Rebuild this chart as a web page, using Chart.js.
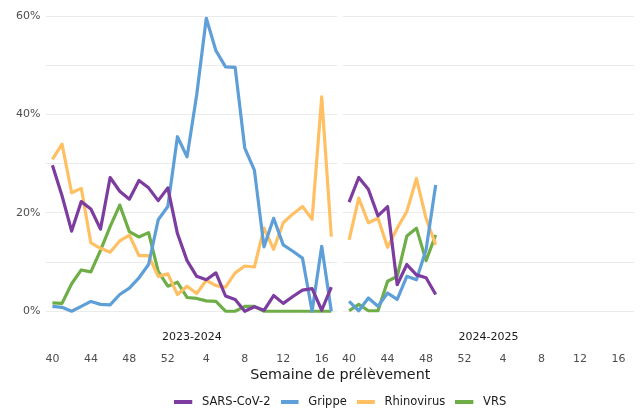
<!DOCTYPE html>
<html>
<head>
<meta charset="utf-8">
<script src="https://cdn.jsdelivr.net/npm/chart.js@4/dist/chart.umd.min.js"></script>
<style>
  html, body { margin: 0; padding: 0; background: #fff; }
  #wrap { width: 640px; height: 410px; position: relative; }
</style>
</head>
<body>
<div id="wrap"><canvas id="myChart"></canvas></div>
<script>
// Weeks on each panel (40 -> 52, then 1 -> 17)
const weeks = [40,41,42,43,44,45,46,47,48,49,50,51,52,1,2,3,4,5,6,7,8,9,10,11,12,13,14,15,16,17];
const tickWeeks = [40, 44, 48, 52, 4, 8, 12, 16];
const seasons = ['2023-2024', '2024-2025'];
const seriesNames = ['SARS-CoV-2', 'Grippe', 'Rhinovirus', 'VRS'];
const colors = ['#7d3c9f', '#5e9fd8', '#ffc064', '#6fae47'];

// 2023-2024 (% positive)
const sars2324 = [29.7, 23.5, 16.3, 22.3, 20.8, 16.7, 27.2, 24.4, 22.8, 26.6, 25.1, 22.5, 25.1, 15.8, 10.3, 7.1, 6.4, 7.8, 3.1, 2.4, 0, 0.9, 0.2, 3.2, 1.6, 3.0, 4.3, 4.6, 0.2, 4.9];
const grippe2324 = [1.0, 0.8, 0, 1.0, 2.0, 1.4, 1.3, 3.4, 4.7, 6.8, 9.5, 18.6, 21.3, 35.5, 31.4, 44.0, 59.6, 53.0, 49.7, 49.6, 33.2, 28.7, 13.1, 18.9, 13.5, 12.2, 10.8, 0, 13.2, 0];
const rhino2324 = [30.9, 34.0, 24.1, 25.0, 13.9, 12.8, 12.0, 14.3, 15.5, 11.3, 11.3, 7.1, 7.6, 3.4, 5.1, 3.6, 6.3, 5.2, 4.9, 7.8, 9.2, 9.0, 16.9, 12.6, 18.0, 19.8, 21.3, 18.7, 43.6, 15.2];
const vrs2324 = [1.7, 1.6, 5.6, 8.4, 8.0, 12.4, 17.2, 21.6, 16.2, 15.1, 16.0, 8.1, 5.1, 5.9, 2.8, 2.6, 2.1, 2.0, 0, 0, 1.0, 1.0, 0, 0, 0, 0, 0, 0, 0, 0];

// 2024-2025 (weeks 40 -> 49)
const sars2425 = [22.2, 27.2, 24.8, 19.4, 21.3, 5.4, 9.5, 7.4, 6.8, 3.4];
const grippe2425 = [2.0, 0.1, 2.7, 1.0, 3.7, 2.4, 7.1, 6.4, 12.5, 25.7];
const rhino2425 = [14.5, 23.0, 18.0, 18.9, 13.0, 16.9, 20.3, 27.0, 18.9, 13.5];
const vrs2425 = [0.1, 1.4, 0.1, 0.1, 6.1, 7.1, 15.3, 16.9, 10.3, 15.5];

const panelOffset = 30.85; // second panel starts after a small gap
const pad = 0.62;          // panel expansion on each side

function weekIndex(w) { return w >= 40 ? w - 40 : w + 12; }

function buildSeries(a, b) {
    const pts = a.map((v, i) => ({ x: i, y: v }));
    pts.push({ x: (weeks.length - 1 + panelOffset) / 2, y: null });
    b.forEach((v, i) => pts.push({ x: panelOffset + i, y: v }));
    return pts;
}

const seriesData = [
    buildSeries(sars2324, sars2425),
    buildSeries(grippe2324, grippe2425),
    buildSeries(rhino2324, rhino2425),
    buildSeries(vrs2324, vrs2425)
];

const xMin = -pad;
const xMax = panelOffset + weeks.length - 1 + pad;
const font = 'DejaVu Sans';

// short line swatch for the legend (18px line inside a 22px box)
function legendSwatch(color) {
    const c = document.createElement('canvas');
    c.width = 22; c.height = 4;
    const g = c.getContext('2d');
    g.fillStyle = color;
    g.fillRect(0, 0, 18, 4);
    return c;
}

// white band between the two panels (grid break)
const panelGap = {
    id: 'panelGap',
    beforeDatasetsDraw(chart) {
        const x = chart.scales.x, a = chart.chartArea;
        const x0 = x.getPixelForValue(weeks.length - 1 + pad);
        const x1 = x.getPixelForValue(panelOffset - pad);
        chart.ctx.save();
        chart.ctx.fillStyle = '#fff';
        chart.ctx.fillRect(x0, a.top - 1, x1 - x0, a.bottom - a.top + 2);
        chart.ctx.restore();
    }
};

const config = {
    type: 'line',
    data: {
        datasets: seriesNames.map((name, k) => ({
            label: name,
            data: seriesData[k],
            borderColor: colors[k],
            backgroundColor: colors[k],
            borderWidth: 3.2,
            pointRadius: 0,
            tension: 0,
            spanGaps: false,
            borderJoinStyle: 'round',
            xAxisID: 'x'
        }))
    },
    options: {
        responsive: true,
        maintainAspectRatio: false,
        animation: false,
        layout: { padding: { left: 10, right: 6, top: 3, bottom: -8 } },
        plugins: {
            tooltip: { enabled: false },
            legend: {
                position: 'bottom',
                fullSize: false,
                labels: {
                    font: { family: font, size: 11.5 },
                    color: '#1a1a1a',
                    usePointStyle: true,
                    pointStyleWidth: 22,
                    padding: 10,
                    generateLabels: function(chart) {
                        return Chart.defaults.plugins.legend.labels.generateLabels(chart)
                            .map((l, k) => Object.assign(l, { pointStyle: legendSwatch(colors[k]), lineWidth: 0 }));
                    }
                }
            }
        },
        scales: {
            x: {
                type: 'linear',
                min: xMin,
                max: xMax,
                weight: 1,
                grid: { display: false, drawTicks: false },
                border: { display: false },
                afterBuildTicks: function(scale) {
                    const t = [];
                    [0, panelOffset].forEach(off => tickWeeks.forEach(w => t.push({ value: off + weekIndex(w) })));
                    scale.ticks = t;
                },
                ticks: {
                    autoSkip: false,
                    maxRotation: 0,
                    padding: 3,
                    color: '#4d4d4d',
                    font: { family: font, size: 11 },
                    callback: function(value) {
                        const i = Math.round(value >= panelOffset - 1 ? value - panelOffset : value);
                        return String(weeks[i]);
                    }
                },
                title: {
                    display: true,
                    text: 'Semaine de prélèvement',
                    color: '#1a1a1a',
                    font: { family: font, size: 14.3 },
                    padding: { top: -2, bottom: 3 }
                }
            },
            x2: {
                type: 'linear',
                position: 'bottom',
                min: xMin,
                max: xMax,
                weight: 0,
                grid: { display: false, drawTicks: false },
                border: { display: false },
                afterBuildTicks: function(scale) {
                    scale.ticks = seasons.map((s, k) => ({ value: k * panelOffset + (weeks.length - 1) / 2 }));
                },
                ticks: {
                    autoSkip: false,
                    maxRotation: 0,
                    padding: 5,
                    color: '#1a1a1a',
                    font: { family: font, size: 11 },
                    callback: function(value) {
                        return value > panelOffset ? seasons[1] : seasons[0];
                    }
                }
            },
            y: {
                min: -2.99,
                max: 62.7,
                grid: { color: '#ebebeb', lineWidth: 1.1, drawTicks: false },
                border: { display: false },
                afterBuildTicks: function(scale) {
                    const t = [];
                    for (let v = 0; v <= 60; v += 10) t.push({ value: v });
                    scale.ticks = t;
                },
                afterFit: function(scale) {
                    scale.paddingTop = 0;
                    scale.paddingBottom = 0;
                },
                ticks: {
                    padding: 6,
                    color: '#4d4d4d',
                    font: { family: font, size: 11 },
                    callback: function(value) {
                        return value % 20 === 0 ? value + '%' : '';
                    }
                }
            }
        }
    },
    plugins: [panelGap]
};

var myChart = new Chart(document.getElementById('myChart'), config);
</script>
</body>
</html>
